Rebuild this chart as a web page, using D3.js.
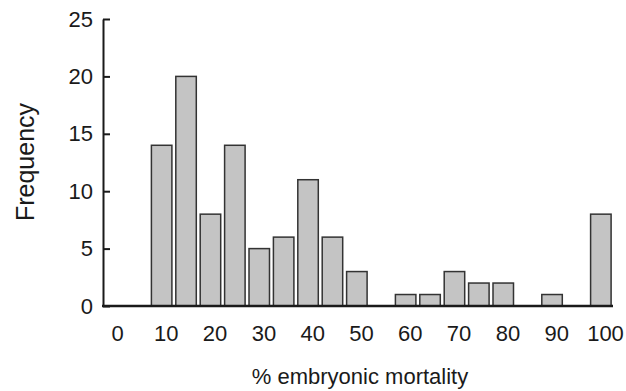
<!DOCTYPE html>
<html>
<head>
<meta charset="utf-8">
<script src="https://cdn.jsdelivr.net/npm/d3@7"></script>
<style>
  body { margin: 0; background: #fff; }
  svg text { font-family: "Liberation Sans", Arial, Helvetica, sans-serif; fill: #1a1a1a; }
</style>
</head>
<body>
<div id="chart"></div>
<script>
// bin value (% embryonic mortality) and frequency
const mortality = [10, 15, 20, 25, 30, 35, 40, 45, 50, 60, 65, 70, 75, 80, 90, 100];
const frequency = [14, 20, 8, 14, 5, 6, 11, 6, 3, 1, 1, 3, 2, 2, 1, 8];
const xTicks = [0, 10, 20, 30, 40, 50, 60, 70, 80, 90, 100];
const yTicks = [0, 5, 10, 15, 20, 25];

const width = 626, height = 391;

const svg = d3.select('#chart')
  .append('svg')
  .attr('width', width)
  .attr('height', height);

const x = d3.scaleLinear().domain([0, 100]).range([117, 605]);
const y = d3.scaleLinear().domain([0, 25]).range([306, 19]);

// bars sit a little left of their label
const barLeft = -2.95, barRight = 1.25;

svg.selectAll('.bar')
  .data(mortality)
  .enter().append('rect')
  .attr('class', 'bar')
  .attr('x', d => x(d + barLeft))
  .attr('y', (d, i) => y(frequency[i]))
  .attr('width', d => x(d + barRight) - x(d + barLeft))
  .attr('height', (d, i) => y(0) - y(frequency[i]))
  .attr('fill', '#c4c4c4')
  .attr('stroke', '#333')
  .attr('stroke-width', 1.5);

// x axis: baseline plus labels, no ticks
const xAxis = svg.append('g')
  .attr('transform', 'translate(0,' + y(0) + ')')
  .call(d3.axisBottom(x).tickValues(xTicks).tickSize(0).tickPadding(19));
xAxis.select('.domain').remove();
xAxis.selectAll('text').style('font-size', '22px');

svg.append('line')
  .attr('x1', 102).attr('x2', 613)
  .attr('y1', y(0)).attr('y2', y(0))
  .attr('stroke', '#1a1a1a')
  .attr('stroke-width', 2.5);

// y axis with inward ticks
const yAxis = svg.append('g')
  .attr('transform', 'translate(103,0)')
  .call(d3.axisLeft(y).tickValues(yTicks).tickSizeInner(-7).tickSizeOuter(0).tickPadding(10));
yAxis.select('.domain').attr('stroke', '#1a1a1a').attr('stroke-width', 2);
yAxis.selectAll('.tick line').attr('stroke', '#1a1a1a').attr('stroke-width', 2);
yAxis.selectAll('text').style('font-size', '22px');

// axis titles
svg.append('text')
  .attr('transform', 'rotate(-90)')
  .attr('x', -162)
  .attr('y', 34)
  .style('text-anchor', 'middle')
  .style('font-size', '25px')
  .text('Frequency');

svg.append('text')
  .attr('x', 360)
  .attr('y', 384)
  .style('text-anchor', 'middle')
  .style('font-size', '22px')
  .text('% embryonic mortality');
</script>
</body>
</html>
